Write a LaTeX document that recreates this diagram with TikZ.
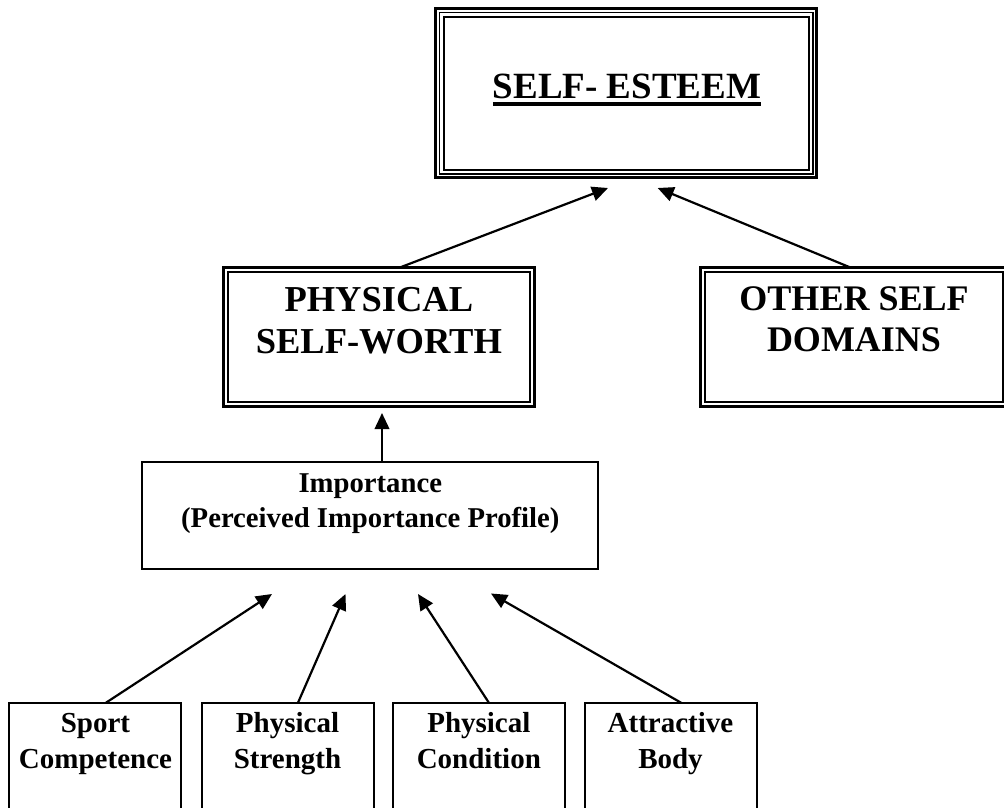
\documentclass[tikz,border=0pt]{standalone}
\usepackage{fontspec}
\setmainfont{Liberation Serif}
\usetikzlibrary{arrows.meta}
\newcommand\thickul[1]{\setbox0\hbox{#1}\rlap{\rule[-6.6pt]{\wd0}{3.8pt}}\box0}
\newcommand\mlines[1]{\begin{tabular}[t]{@{}c@{}}#1\end{tabular}}
\begin{document}
\begin{tikzpicture}[x=1pt,y=-1pt,
  frame/.style={draw, line width=3pt, inner sep=0pt, outer sep=0pt, rectangle},
  plainbox/.style={draw, line width=2pt, inner sep=0pt, outer sep=0pt, rectangle},
  innerline/.style={line width=2pt},
  midline/.style={line width=1.3pt},
  lbl/.style={anchor=base, inner sep=0pt, outer sep=0pt},
  arr/.style={line width=2.2pt, -{Triangle[length=16pt,width=14.5pt]}}]
\useasboundingbox (0,0) rectangle (1004,808);

% Self-esteem (triple frame)
\node[frame, minimum width=381pt, minimum height=169pt] (se) at (626.3,93.3) {};
\draw[midline] ([shift={(3.8pt,-3.8pt)}]se.north west) rectangle ([shift={(-3.8pt,3.8pt)}]se.south east);
\draw[innerline] ([shift={(8.2pt,-8.2pt)}]se.north west) rectangle ([shift={(-8.2pt,8.2pt)}]se.south east);
\node[lbl, font=\bfseries\fontsize{37}{44}\selectfont] (setxt) at (627,99) {\thickul{SELF- ESTEEM}};

% Physical self-worth (double frame)
\node[frame, minimum width=311.3pt, minimum height=138.7pt] (psw) at (378.85,336.85) {};
\draw[innerline] ([shift={(4.35pt,-4.35pt)}]psw.north west) rectangle ([shift={(-4.35pt,4.35pt)}]psw.south east);
\node[lbl, font=\bfseries\fontsize{36.5}{42}\selectfont] (pswtxt) at (378.85,311) {\mlines{PHYSICAL\\SELF-WORTH}};

% Other self domains (double frame)
\node[frame, minimum width=307pt, minimum height=138.7pt] (osd) at (854,336.7) {};
\draw[innerline] ([shift={(4.35pt,-4.35pt)}]osd.north west) rectangle ([shift={(-4.35pt,4.35pt)}]osd.south east);
\node[lbl, font=\bfseries\fontsize{36}{41}\selectfont] (osdtxt) at (854,310) {\mlines{OTHER SELF\\DOMAINS}};

% Importance
\node[plainbox, minimum width=456pt, minimum height=107.3pt] (imp) at (370,515.35) {};
\node[lbl, font=\bfseries\fontsize{28.7}{35}\selectfont] (imptxt) at (370.3,492.7) {\mlines{Importance\\(Perceived Importance Profile)}};

% Bottom boxes
\node[plainbox, minimum width=172pt, minimum height=127.3pt] (b1) at (95,766.35) {};
\node[plainbox, minimum width=172pt, minimum height=127.3pt] (b2) at (288,766.35) {};
\node[plainbox, minimum width=172pt, minimum height=127.3pt] (b3) at (478.85,766.35) {};
\node[plainbox, minimum width=172pt, minimum height=127.3pt] (b4) at (670.5,766.35) {};
\node[lbl, font=\bfseries\fontsize{29}{35.6}\selectfont] (b1txt) at (95.5,732.7) {\mlines{Sport\\Competence}};
\node[lbl, font=\bfseries\fontsize{29}{35.6}\selectfont] (b2txt) at (287.5,732.7) {\mlines{Physical\\Strength}};
\node[lbl, font=\bfseries\fontsize{29}{35.6}\selectfont] (b3txt) at (478.85,732.7) {\mlines{Physical\\Condition}};
\node[lbl, font=\bfseries\fontsize{29}{35.6}\selectfont] (b4txt) at (670.5,732.7) {\mlines{Attractive\\Body}};

% arrow tips
\coordinate (tipA) at (608,188);
\coordinate (tipB) at (657.7,188);
\coordinate (tipC) at (382,413);
\coordinate (t1) at (272,594);
\coordinate (t2) at (345.5,594);
\coordinate (t3) at (418,594);
\coordinate (t4) at (491,593.5);

\draw[arr] ([xshift=21pt]psw.north) -- (tipA);
\draw[arr] ([xshift=-4pt]osd.north) -- (tipB);
\draw[arr] ([xshift=12pt]imp.north) -- (tipC);
\draw[arr] ([xshift=11pt]b1.north) -- (t1);
\draw[arr] ([xshift=10pt]b2.north) -- (t2);
\draw[arr] ([xshift=10pt]b3.north) -- (t3);
\draw[arr] ([xshift=10.5pt]b4.north) -- (t4);
\end{tikzpicture}
\end{document}
